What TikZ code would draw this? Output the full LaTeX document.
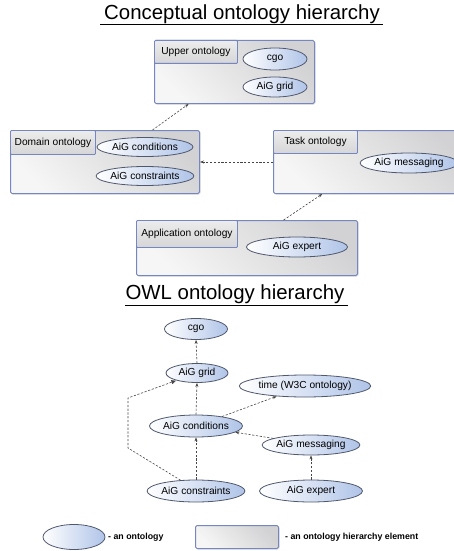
\documentclass[tikz,border=0pt]{standalone}
\usepackage{fontspec}
\setmainfont{Liberation Sans}
\usetikzlibrary{arrows.meta,shadows,shapes.geometric,calc}
\definecolor{boxblue}{RGB}{118,134,190}
\definecolor{ellblue}{RGB}{176,196,232}
\definecolor{ellline}{RGB}{80,88,110}
\definecolor{boxgray}{RGB}{210,210,212}
\definecolor{boxlight}{RGB}{246,246,246}
\definecolor{hdrtop}{RGB}{236,236,236}
\definecolor{hdrbot}{RGB}{214,214,216}
\definecolor{arrgray}{RGB}{70,70,70}
\begin{document}
\begin{tikzpicture}[x=1pt,y=-1pt,
  hier/.style={draw=boxblue,line width=1pt,rounded corners=1.5pt,top color=boxgray,bottom color=boxlight,shading angle=-45,
    anchor=north west,inner sep=0pt,drop shadow={shadow xshift=1pt,shadow yshift=-1pt,opacity=0.25}},
  hdr/.style={draw=boxblue,line width=0.9pt,rounded corners=1pt,top color=hdrtop,bottom color=hdrbot,
    anchor=north west,inner sep=0pt,font=\fontsize{10.2}{12}\selectfont},
  onto/.style={ellipse,draw=ellline,line width=0.8pt,left color=white,right color=ellblue,
    inner sep=0pt,font=\fontsize{10.2}{12}\selectfont},
  dep/.style={draw=arrgray,line width=0.6pt,dash pattern=on 2.2pt off 1.6pt,
    -{Stealth[length=4pt,width=3pt]}},
  title/.style={font=\fontsize{20.4}{24}\selectfont,inner sep=0pt},
  legtxt/.style={font=\bfseries\fontsize{8.8}{10}\selectfont,anchor=west,inner sep=0pt}]
\useasboundingbox (0,0) rectangle (454,551);

% ---------- Conceptual ontology hierarchy ----------
\node[title] (t1) at (242,14.5) {Conceptual ontology hierarchy};
\draw[line width=1pt] (100,24.5) -- (383,24.5);

\node[hier,minimum width=160pt,minimum height=63pt] (up) at (154,40) {};
\node[hdr,minimum width=83pt,minimum height=23pt] (uph) at (154,40) {Upper ontology};
\node[onto,minimum width=64pt,minimum height=22pt] (cgo1) at (275,59) {cgo};
\node[onto,minimum width=64pt,minimum height=20pt] (grid1) at (275,87) {AiG grid};

\node[hier,minimum width=189pt,minimum height=63pt] (dom) at (10,130) {};
\node[hdr,minimum width=85pt,minimum height=24pt] (domh) at (10,130) {Domain ontology};
\node[onto,minimum width=96pt,minimum height=19pt] (cond1) at (145,147) {AiG conditions};
\node[onto,minimum width=94pt,minimum height=19pt] (cons1) at (145,176) {AiG constraints};

\node[hier,minimum width=200pt,minimum height=63pt] (task) at (273,130) {};
\node[hdr,minimum width=84pt,minimum height=23pt] (taskh) at (273,130) {Task ontology};
\node[onto,minimum width=92pt,minimum height=20pt] (msg1) at (409,163) {AiG messaging};

\node[hier,minimum width=221pt,minimum height=55pt] (app) at (136,220) {};
\node[hdr,minimum width=101pt,minimum height=27pt] (apph) at (136,220) {Application ontology};
\node[onto,minimum width=101pt,minimum height=20pt] (exp1) at (297,247) {AiG expert};

\draw[dep] ($(dom.north west)!0.75!(dom.north east)$) -- ($(up.south west)!0.215!(up.south east)$);
\draw[dep] (task.west) -- (dom.east);
\draw[dep] ($(app.north west)!0.665!(app.north east)$) -- ($(task.south west)!0.245!(task.south east)$);

% ---------- OWL ontology hierarchy ----------
\node[title] (t2) at (235,294.5) {OWL ontology hierarchy};
\draw[line width=1pt] (125,305.5) -- (348,305.5);

\node[onto,minimum width=63pt,minimum height=21pt] (cgo2) at (196,329) {cgo};
\node[onto,minimum width=62pt,minimum height=19pt] (grid2) at (197,373) {AiG grid};
\node[onto,minimum width=115pt,minimum height=22pt] (time) at (305,386) {time (W3C ontology)};
\node[onto,minimum width=92pt,minimum height=22pt] (cond2) at (196,426) {AiG conditions};
\node[onto,minimum width=92pt,minimum height=20pt] (msg2) at (311,445) {AiG messaging};
\node[onto,minimum width=93pt,minimum height=22pt] (cons2) at (196,491) {AiG constraints};
\node[onto,minimum width=103pt,minimum height=22pt] (exp2) at (311,491) {AiG expert};

\coordinate (c1) at (128,448);
\coordinate (c2) at (128,398);

\draw[dep] (grid2.north) -- (cgo2.south);
\draw[dep] (cond2.north) -- (grid2.south);
\draw[dep] (cons2.north) -- (cond2.south);
\draw[dep] (cond2.20) -- (time.200);
\draw[dep] (msg2.170) -- (cond2.-9);
\draw[dep] (exp2.north) -- (msg2.south);
\draw[draw=arrgray,line width=0.6pt,dash pattern=on 2.2pt off 1.6pt,-{Latex[length=5pt,width=4.5pt]}]
  (cons2.145) -- (c1) -- (c2) -- (grid2.200);

% ---------- Legend ----------
\node[onto,minimum width=62pt,minimum height=25pt] (lege) at (74,537) {};
\node[legtxt] (legetxt) at (108,537) {- an ontology};
\node[hier,minimum width=83pt,minimum height=23pt] (legr) at (195,525) {};
\node[legtxt] (legrtxt) at (285,537) {- an ontology hierarchy element};
\end{tikzpicture}
\end{document}
